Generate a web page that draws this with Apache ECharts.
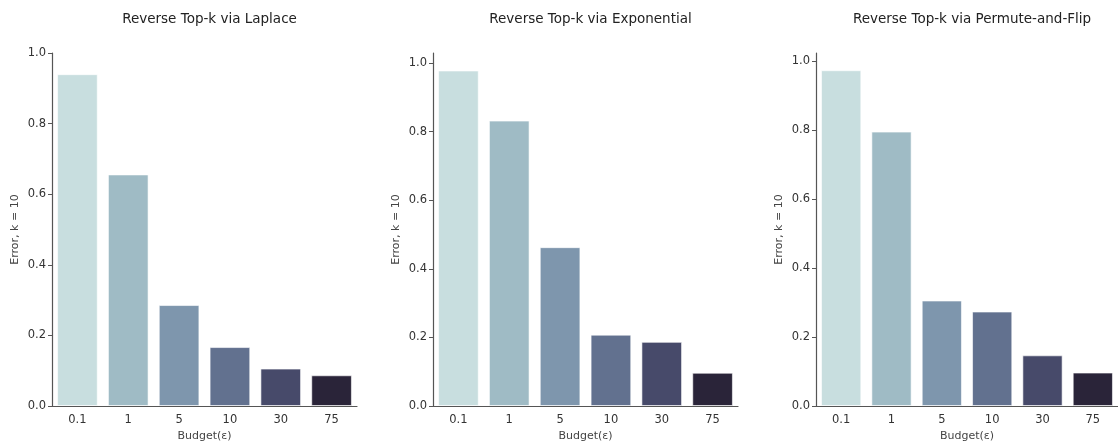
<!DOCTYPE html>
<html>
<head>
<meta charset="utf-8">
<script src="https://cdn.jsdelivr.net/npm/echarts@6/dist/echarts.min.js"></script>
<style>
  html, body { margin: 0; padding: 0; background: #fff; }
  #main { width: 1118px; height: 443px; }
</style>
</head>
<body>
<div id="main"></div>
<script>
// budgets on the x axis
var budgets = ['0.1', '1', '5', '10', '30', '75'];
var titles = ['Reverse Top-k via Laplace', 'Reverse Top-k via Exponential', 'Reverse Top-k via Permute-and-Flip'];
// error values
var laplaceErr = [0.94, 0.656, 0.286, 0.167, 0.106, 0.087];
var expErr = [0.978, 0.832, 0.463, 0.208, 0.187, 0.097];
var pfErr = [0.974, 0.796, 0.306, 0.274, 0.147, 0.097];
var yTicks = [0, 0.2, 0.4, 0.6, 0.8, 1.0];
var yMax = [1.0, 1.029, 1.024];

var barColors = ['#c8dedf', '#9fbbc5', '#7e96ad', '#62718f', '#474a6a', '#2a2439'];
var font = 'DejaVu Sans';

var allData = [laplaceErr, expErr, pfErr];
// grid layout of the three panels
var grids = [
  { left: 52, width: 305, top: 53, bottom: 37 },
  { left: 433, width: 305, top: 53, bottom: 37 },
  { left: 816, width: 302, top: 53, bottom: 37 }
];

var option = {
  backgroundColor: '#fff',
  animation: false,
  title: titles.map(function (t, i) {
    return {
      text: t,
      left: grids[i].left + grids[i].width / 2,
      textAlign: 'center',
      top: 7,
      textStyle: { fontFamily: font, fontSize: 13.5, fontWeight: 'normal', color: '#222' }
    };
  }),
  grid: grids.map(function (g) { return Object.assign({ containLabel: false, outerBoundsMode: 'none' }, g); }),
  xAxis: grids.map(function (g, i) {
    return {
      type: 'category',
      gridIndex: i,
      data: budgets,
      name: 'Budget(\u03b5)',
      nameLocation: 'middle',
      nameGap: 25,
      nameTextStyle: { fontFamily: font, fontSize: 11, color: '#444' },
      axisLine: { lineStyle: { color: '#555', width: 1.2 } },
      axisTick: { alignWithLabel: true, length: 4, lineStyle: { color: '#555' } },
      axisLabel: { fontFamily: font, fontSize: 11.5, color: '#333', margin: 8 },
      splitLine: { show: false }
    };
  }),
  yAxis: grids.map(function (g, i) {
    return {
      type: 'value',
      gridIndex: i,
      min: 0,
      max: yMax[i],
      name: 'Error, k = 10',
      nameLocation: 'middle',
      nameRotate: 90,
      nameGap: 31,
      nameTextStyle: { fontFamily: font, fontSize: 11, color: '#444' },
      axisLine: { show: true, lineStyle: { color: '#555', width: 1.2 } },
      axisTick: { show: true, length: 4, customValues: yTicks, lineStyle: { color: '#555' } },
      axisLabel: {
        fontFamily: font, fontSize: 11.5, color: '#333', margin: 6,
        customValues: yTicks,
        formatter: function (v) { return v.toFixed(1); }
      },
      splitLine: { show: false }
    };
  }),
  series: allData.map(function (arr, i) {
    return {
      type: 'bar',
      xAxisIndex: i,
      yAxisIndex: i,
      barCategoryGap: '20%',
      data: arr.map(function (v, j) {
        return { value: v, itemStyle: { color: barColors[j], borderColor: 'rgba(255,255,255,0.6)', borderWidth: 1 } };
      })
    };
  })
};

var chart = echarts.init(document.getElementById('main'));
chart.setOption(option);
</script>
</body>
</html>
